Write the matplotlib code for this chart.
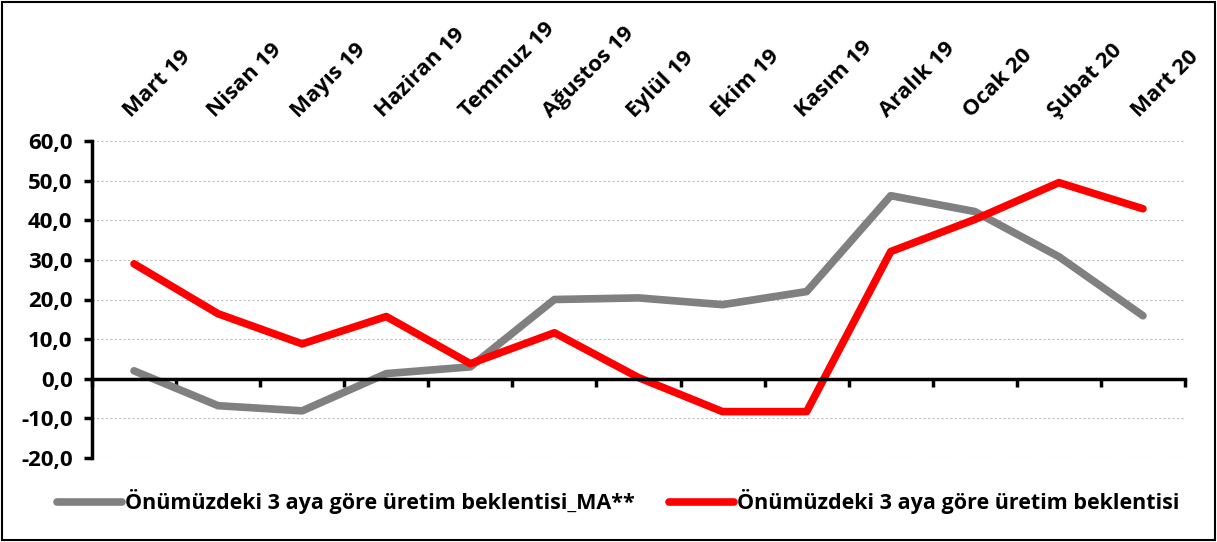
import numpy as np
import matplotlib.pyplot as plt
from matplotlib.ticker import FuncFormatter

plt.rcParams['font.family'] = ['Open Sans', 'DejaVu Sans']
plt.rcParams['font.weight'] = 'bold'

# ---- datos ----
aylar = ["Mart 19", "Nisan 19", "Mayıs 19", "Haziran 19", "Temmuz 19", "Ağustos 19",
         "Eylül 19", "Ekim 19", "Kasım 19", "Aralık 19", "Ocak 20", "Şubat 20", "Mart 20"]
beklenti_ma = [2.0, -6.8, -8.1, 1.3, 3.0, 20.0, 20.4, 18.7, 22.0, 46.2, 42.2, 30.8, 15.9]
beklenti = [29.0, 16.4, 8.8, 15.7, 3.8, 11.6, 0.3, -8.3, -8.3, 32.1, 40.2, 49.5, 42.9]
etiket_ma = "Önümüzdeki 3 aya göre üretim beklentisi_MA**"
etiket = "Önümüzdeki 3 aya göre üretim beklentisi"

fig = plt.figure(figsize=(12.17, 5.42), dpi=100)
ax = fig.add_axes([92/1217, 1-458/542, (1185-92)/1217, (458-141)/542])

x = np.arange(len(aylar))
ax.plot(x, beklenti_ma, color="#808080", lw=5.5, solid_capstyle="round", solid_joinstyle="round", label=etiket_ma)
ax.plot(x, beklenti, color="#ff0000", lw=5.5, solid_capstyle="round", solid_joinstyle="round", label=etiket)

ax.set_xlim(-0.5, len(aylar) - 0.5)
ax.set_ylim(-20, 60)
ax.set_yticks(np.arange(-20, 61, 10))
ax.yaxis.set_major_formatter(FuncFormatter(lambda v, p: f"{v:.1f}".replace(".", ",")))
ax.grid(axis="y", color="#c0c0c0", ls=(0, (2, 2)), lw=0.8)
ax.set_axisbelow(True)

# eje x en el cero
ax.spines["top"].set_visible(False)
ax.spines["right"].set_visible(False)
ax.spines["bottom"].set_position(("data", 0))
ax.spines["bottom"].set_linewidth(2.5)
ax.spines["left"].set_linewidth(2.5)
ax.set_xticks(np.arange(-0.5, len(aylar), 1))
ax.set_xticklabels([])
ax.tick_params(axis="x", direction="out", length=6, width=2.5)
ax.tick_params(axis="y", direction="out", length=6, width=2.5, labelsize=16, pad=8)
for t in ax.get_yticklabels():
    t.set_fontweight("bold")

# etiquetas arriba
sec = ax.secondary_xaxis("top")
sec.set_xticks(x)
sec.set_xticklabels(aylar, rotation=45, ha="left", rotation_mode="anchor", fontsize=16, fontweight="bold")
sec.tick_params(length=0, pad=14)
sec.spines["top"].set_visible(False)

fig.legend(loc="lower center", bbox_to_anchor=(0.508, 0.015), ncol=2, frameon=False,
           handlelength=3.0, handletextpad=0.15, columnspacing=1.6,
           prop={"weight": "bold", "size": 15.5})

fig.patches.append(plt.Rectangle((0.002, 0.003), 0.996, 0.994, transform=fig.transFigure,
                                 fill=False, edgecolor="black", lw=1.5))

fig.savefig("out.png", dpi=100)
